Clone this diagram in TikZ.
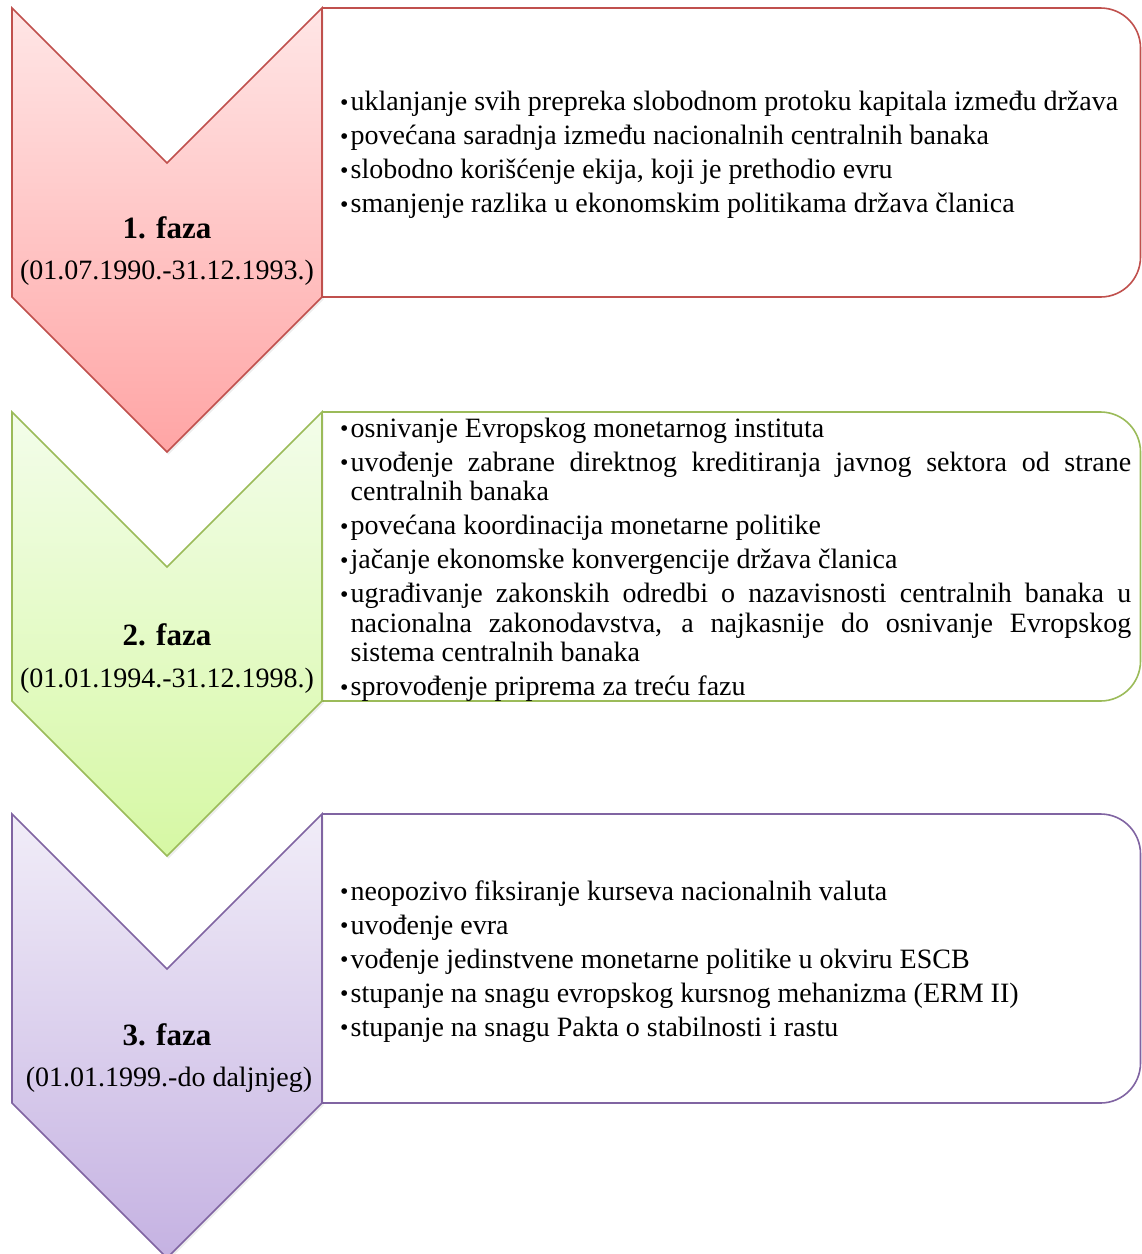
\documentclass[tikz,border=0pt]{standalone}
\usepackage{fontspec}
\setmainfont{Liberation Serif}
\definecolor{redline}{HTML}{C0504D}
\definecolor{redtop}{HTML}{FFE6E6}
\definecolor{redbot}{HTML}{FFA5A5}
\definecolor{greenline}{HTML}{9BBB59}
\definecolor{greentop}{HTML}{F3FDEA}
\definecolor{greenbot}{HTML}{D6F8A4}
\definecolor{purpleline}{HTML}{8064A2}
\definecolor{purpletop}{HTML}{F1EDF8}
\definecolor{purplebot}{HTML}{C5B2E2}
% one bulleted paragraph with a hanging indent
\newcommand\bitem{\par\hangindent=10.5pt\hangafter=1\noindent\makebox[10.5pt][l]{\raisebox{0.5pt}{\fontsize{24}{24}\selectfont •}}}
\tikzset{
  frame/.style={line width=1.6pt, fill=white},
  chev/.style={line width=1.6pt},
  shade/.style={fill=black, opacity=0.07},
  items/.style={anchor=west, inner sep=0pt, text width=791pt, align=justify,
    font=\fontsize{28}{29.5}\selectfont\setlength{\parskip}{4.5pt}},
  phase/.style={inner sep=0pt, font=\fontsize{31}{32}\selectfont\bfseries},
  dates/.style={inner sep=0pt, font=\fontsize{28}{30}\selectfont},
}
% a stage: chevron on the left, rounded list box on the right
% #1 top y, #2 line colour, #3 top shade, #4 bottom shade
\newcommand\stage[4]{%
  \draw[frame, draw=#2, rounded corners=40pt]
    (322,#1) -- (1140.5,#1) -- (1140.5,#1+289) -- (322,#1+289);
  \fill[shade, shift={(1.5,2.5)}]
    (12,#1) -- (167,#1+155) -- (322,#1) -- (322,#1+289) -- (167,#1+444) -- (12,#1+289) -- cycle;
  \draw[chev, draw=#2, top color=#3, bottom color=#4]
    (12,#1) -- (167,#1+155) -- (322,#1) -- (322,#1+289) -- (167,#1+444) -- (12,#1+289) -- cycle;
}
\begin{document}
\begin{tikzpicture}[x=1pt,y=-1pt]
\useasboundingbox (0,0) rectangle (1142,1254);
\fill[white] (0,0) rectangle (1142,1254);

% stage 1
\stage{8}{redline}{redtop}{redbot}
\node[phase] (p1) at (167,228) {1. faza};
\node[dates] (d1) at (167,273) {(01.07.1990.-31.12.1993.)};
\node[items] (t1) at (340,147.5) {%
\bitem uklanjanje svih prepreka slobodnom protoku kapitala između država
\bitem povećana saradnja između nacionalnih centralnih banaka
\bitem slobodno korišćenje ekija, koji je prethodio evru
\bitem smanjenje razlika u ekonomskim politikama država članica\par};

% stage 2
\stage{412}{greenline}{greentop}{greenbot}
\node[phase] (p2) at (167,635) {2. faza};
\node[dates] (d2) at (167,681) {(01.01.1994.-31.12.1998.)};
\node[items] (t2) at (340,552.5) {%
\bitem osnivanje Evropskog monetarnog instituta
\bitem uvođenje zabrane direktnog kreditiranja javnog sektora od strane\linebreak centralnih banaka
\bitem povećana koordinacija monetarne politike
\bitem jačanje ekonomske konvergencije država članica
\bitem ugrađivanje zakonskih odredbi o nazavisnosti centralnih banaka u\linebreak nacionalna zakonodavstva, a najkasnije do osnivanje Evropskog\linebreak sistema centralnih banaka
\bitem sprovođenje priprema za treću fazu\par};

% stage 3
\stage{814}{purpleline}{purpletop}{purplebot}
\node[phase] (p3) at (167,1035) {3. faza};
\node[dates] (d3) at (169,1080) {(01.01.1999.-do daljnjeg)};
\node[items] (t3) at (340,954.5) {%
\bitem neopozivo fiksiranje kurseva nacionalnih valuta
\bitem uvođenje evra
\bitem vođenje jedinstvene monetarne politike u okviru ESCB
\bitem stupanje na snagu evropskog kursnog mehanizma (ERM II)
\bitem stupanje na snagu Pakta o stabilnosti i rastu\par};
\end{tikzpicture}
\end{document}
